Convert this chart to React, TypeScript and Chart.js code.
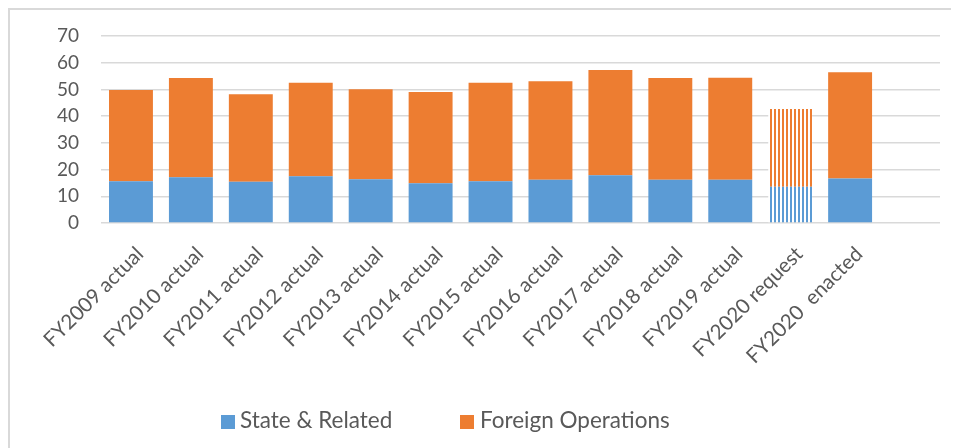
import React, { useEffect, useRef } from "react";
import { Chart, registerables } from "chart.js";

Chart.register(...registerables);

const categories = [
  "FY2009 actual",
  "FY2010 actual",
  "FY2011 actual",
  "FY2012 actual",
  "FY2013 actual",
  "FY2014 actual",
  "FY2015 actual",
  "FY2016 actual",
  "FY2017 actual",
  "FY2018 actual",
  "FY2019 actual",
  "FY2020 request",
  "FY2020  enacted",
  "",
];
const stateRelated = [15.6, 17.1, 15.4, 17.5, 16.4, 14.9, 15.6, 16.2, 17.9, 16.2, 16.2, 13.6, 16.7, null];
const foreignOps = [34.2, 37.2, 32.8, 35.0, 33.7, 34.1, 36.9, 36.9, 39.4, 38.1, 38.2, 29.1, 39.7, null];
const yTicks = [0, 10, 20, 30, 40, 50, 60, 70];
const patternedIndex = 11;

const BLUE = "#5B9BD5";
const ORANGE = "#ED7D31";
const TEXT = "#595959";
const FONT = "Lato, 'Open Sans', sans-serif";

function stripe(color: string) {
  const c = document.createElement("canvas");
  c.width = 4;
  c.height = 4;
  const ctx = c.getContext("2d")!;
  ctx.fillStyle = "#ffffff";
  ctx.fillRect(0, 0, 4, 4);
  ctx.fillStyle = color;
  ctx.fillRect(0, 0, 2, 4);
  return ctx.createPattern(c, "repeat")!;
}

export default function App() {
  const ref = useRef<HTMLCanvasElement>(null);
  useEffect(() => {
    const bluePat = stripe(BLUE);
    const orangePat = stripe(ORANGE);
    const colors = (base: string, pat: CanvasPattern) =>
      categories.map((_, i) => (i === patternedIndex ? pat : base));
    const chart = new Chart(ref.current!, {
      type: "bar",
      data: {
        labels: categories,
        datasets: [
          {
            label: "State & Related",
            data: stateRelated,
            backgroundColor: colors(BLUE, bluePat),
            categoryPercentage: 1,
            barPercentage: 0.733,
          },
          {
            label: "Foreign Operations",
            data: foreignOps,
            backgroundColor: colors(ORANGE, orangePat),
            categoryPercentage: 1,
            barPercentage: 0.733,
          },
        ],
      },
      options: {
        animation: false,
        responsive: false,
        layout: { padding: { left: 0, right: 19, top: 26, bottom: 0 } },
        plugins: { legend: { display: false }, tooltip: { enabled: false } },
        scales: {
          x: {
            stacked: true,
            grid: { display: false },
            border: { display: false },
            ticks: {
              color: TEXT,
              font: { family: FONT, size: 20.5 },
              minRotation: 45,
              maxRotation: 45,
              autoSkip: false,
              padding: 11,
              labelOffset: 9,
            },
            afterFit: (s: any) => {
              s.height = 225;
            },
          },
          y: {
            stacked: true,
            min: 0,
            max: 70,
            afterBuildTicks: (s: any) => {
              s.ticks = yTicks.map((v) => ({ value: v }));
            },
            grid: {
              color: "#D9D9D9",
              lineWidth: 1.5,
              drawTicks: true,
              tickLength: 18,
              tickColor: "rgba(0,0,0,0)",
            },
            border: { display: false },
            ticks: {
              color: TEXT,
              font: { family: FONT, size: 19 },
              padding: 4,
              autoSkip: false,
            },
            afterFit: (s: any) => {
              s.width = 91;
            },
          },
        },
      },
    });
    return () => chart.destroy();
  }, []);

  const legendText: React.CSSProperties = {
    position: "absolute",
    top: 396,
    fontFamily: FONT,
    fontSize: 22.5,
    lineHeight: "28px",
    color: TEXT,
    whiteSpace: "nowrap",
  };
  const box = (left: number, color: string): React.CSSProperties => ({
    position: "absolute",
    left,
    top: 405,
    width: 14,
    height: 14,
    background: color,
  });

  return (
    <div
      style={{
        position: "relative",
        width: 951,
        height: 440,
        boxSizing: "border-box",
        borderLeft: "2px solid #D9D9D9",
        borderTop: "2px solid #D9D9D9",
      }}
    >
      <canvas ref={ref} width={949} height={438} style={{ position: "absolute", left: 0, top: 0 }} />
      <div style={box(211, BLUE)} />
      <div style={{ ...legendText, left: 230 }}>State &amp; Related</div>
      <div style={box(450, ORANGE)} />
      <div style={{ ...legendText, left: 470 }}>Foreign Operations</div>
    </div>
  );
}
